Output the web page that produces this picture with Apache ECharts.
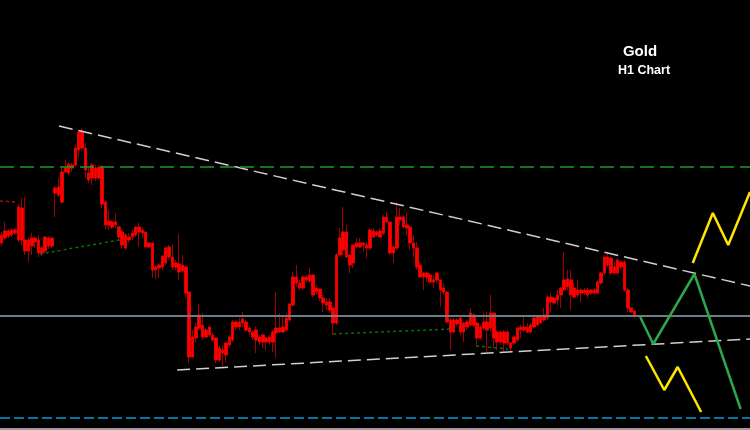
<!DOCTYPE html>
<html>
<head>
<meta charset="utf-8">
<script src="https://cdn.jsdelivr.net/npm/echarts@6/dist/echarts.min.js"></script>
<style>html,body{margin:0;padding:0;background:#000;}#c{width:750px;height:430px;}</style>
</head>
<body>
<div id="c"></div>
<script>
// Hourly candles: [open, close, low, high]
const candles = [
[2195,2187,2184,2198],[2199,2192,2190,2208],[2199,2194,2192,2201],[2200,2195,2193,2202],[2200,2197,2195,2202],
[2223,2190,2188,2226],[2222,2190,2185,2232],[2190,2179,2175,2233],[2190,2179,2168,2192],[2192,2184,2175,2197],
[2192,2188,2182,2194],[2190,2177,2173,2195],[2182,2177,2174,2184],[2193,2179,2177,2194],[2192,2184,2181,2194],
[2192,2184,2182,2193],[2242,2237,2213,2244],[2243,2235,2233,2252],[2258,2228,2226,2262],[2262,2258,2257,2270],
[2266,2257,2255,2268],[2265,2262,2258,2267],[2282,2265,2263,2285],[2298,2280,2272,2300],[2299,2282,2280,2302],
[2282,2260,2252,2287],[2257,2250,2247,2262],[2265,2252,2245,2267],[2262,2252,2249,2265],[2263,2252,2250,2265],
[2263,2226,2222,2265],[2228,2205,2201,2230],[2209,2205,2200,2220],[2208,2203,2201,2210],[2208,2205,2202,2217],
[2203,2193,2190,2205],[2198,2185,2181,2200],[2195,2182,2180,2197],[2193,2190,2187,2197],[2197,2193,2190,2200],
[2203,2195,2193,2203],[2203,2198,2183,2207],[2200,2197,2192,2203],[2198,2183,2182,2198],[2187,2183,2182,2188],
[2187,2160,2152,2188],[2163,2160,2151,2165],[2165,2162,2152,2167],[2174,2163,2160,2175],[2182,2167,2165,2184],
[2183,2173,2170,2185],[2173,2163,2160,2185],[2167,2163,2160,2170],[2166,2158,2150,2196],[2165,2159,2157,2175],
[2163,2137,2132,2165],[2138,2073,2067,2138],[2093,2073,2072,2100],[2103,2092,2087,2107],[2115,2102,2100,2126],
[2105,2093,2090,2117],[2100,2093,2093,2102],[2103,2095,2093,2104],[2095,2090,2088,2097],[2092,2070,2067,2093],
[2082,2070,2068,2085],[2080,2077,2061,2085],[2087,2075,2068,2088],[2093,2085,2082,2095],[2108,2090,2088,2110],
[2108,2103,2100,2110],[2108,2103,2100,2112],[2111,2107,2103,2118],[2108,2100,2098,2110],[2102,2098,2095,2104],
[2098,2093,2090,2100],[2100,2090,2077,2103],[2093,2088,2085,2095],[2095,2088,2082,2097],[2092,2088,2080,2093],
[2093,2088,2085,2095],[2098,2088,2078,2100],[2102,2097,2072,2138],[2102,2098,2097,2117],[2103,2098,2097,2113],
[2112,2100,2098,2117],[2126,2110,2108,2127],[2153,2125,2123,2158],[2153,2147,2143,2165],[2147,2142,2140,2150],
[2153,2142,2140,2155],[2153,2150,2147,2155],[2155,2149,2147,2162],[2155,2135,2133,2155],[2142,2138,2135,2145],
[2141,2132,2129,2142],[2132,2127,2118,2135],[2128,2125,2120,2132],[2128,2120,2117,2132],[2122,2107,2095,2122],
[2175,2107,2105,2177],[2192,2175,2173,2202],[2198,2180,2175,2223],[2198,2173,2172,2205],[2175,2165,2157,2176],
[2185,2167,2162,2185],[2187,2183,2182,2192],[2187,2183,2182,2192],[2187,2185,2178,2188],[2185,2182,2172,2188],
[2200,2182,2180,2202],[2199,2193,2192,2202],[2198,2195,2193,2200],[2199,2193,2192,2202],[2213,2197,2195,2215],
[2213,2208,2207,2218],[2208,2177,2175,2208],[2183,2177,2167,2185],[2213,2182,2180,2228],[2213,2210,2205,2222],
[2213,2203,2202,2215],[2205,2202,2195,2217],[2203,2187,2180,2205],[2187,2182,2173,2195],[2182,2163,2160,2188],
[2165,2153,2152,2168],[2157,2153,2140,2158],[2157,2153,2148,2158],[2155,2148,2147,2157],[2150,2148,2142,2155],
[2157,2150,2147,2158],[2150,2140,2123,2150],[2142,2138,2135,2147],[2138,2108,2107,2138],[2110,2098,2080,2112],
[2110,2098,2097,2112],[2110,2106,2104,2112],[2112,2098,2095,2113],[2107,2098,2088,2108],[2108,2103,2100,2110],
[2117,2105,2103,2122],[2115,2105,2103,2117],[2107,2092,2083,2108],[2103,2092,2090,2105],[2108,2102,2100,2117],
[2108,2100,2078,2118],[2117,2102,2098,2135],[2117,2092,2082,2117],[2098,2088,2080,2100],[2098,2088,2085,2100],
[2098,2087,2078,2100],[2098,2087,2085,2100],[2087,2082,2078,2088],[2093,2087,2085,2095],[2102,2090,2088,2103],
[2103,2100,2092,2105],[2103,2100,2098,2115],[2103,2098,2097,2107],[2105,2098,2096,2107],[2112,2103,2102,2113],
[2113,2105,2104,2115],[2114,2107,2106,2115],[2115,2110,2108,2122],[2133,2112,2110,2135],[2133,2128,2118,2137],
[2132,2127,2125,2133],[2135,2130,2125,2140],[2142,2135,2122,2143],[2150,2140,2140,2178],[2151,2143,2140,2160],
[2150,2135,2120,2160],[2142,2133,2132,2147],[2140,2135,2133,2150],[2140,2137,2128,2142],[2140,2137,2135,2142],
[2140,2135,2132,2142],[2140,2137,2135,2141],[2140,2137,2135,2142],[2148,2137,2136,2150],[2157,2147,2145,2158],
[2173,2157,2155,2175],[2173,2165,2163,2177],[2172,2157,2155,2173],[2163,2157,2155,2168],[2170,2157,2155,2172],
[2168,2163,2160,2170],[2168,2140,2138,2170],[2140,2122,2118,2142],[2122,2118,2117,2123],[2119,2114,2112,2120]
];
const slotCount = 224;               // bar slots across the chart (incl. empty future)
const categories = Array.from({length: slotCount}, (_, i) => 'H' + i);

// Levels
const resistanceLevel = 2263;
const pivotLevel = 2114;
const supportLevel = 2012;

// Trendlines [slot, price]
const upperTrend = [[17.6, 2304], [224, 2144]];
const lowerTrend = [[52.9, 2060], [224, 2091]];
const dotGreen1 = [[11.9, 2176], [35.8, 2190]];
const dotGreen2 = [[99.5, 2096], [134.4, 2101]];
const dotGreen3 = [[142.2, 2084], [151.7, 2081]];
const dotRed = [[0, 2229], [4.8, 2228]];

// Projections
const greenPath = [[191.2, 2113], [195.1, 2086], [207.4, 2156], [221.2, 2021]];
const yellowUp = [[206.9, 2167], [212.9, 2217], [217.5, 2185], [224, 2238]];
const yellowDown = [[192.9, 2074], [198.4, 2040], [202.4, 2063], [209.4, 2018]];

const bodies = candles.map(([o, c]) => [o, c, Math.min(o, c), Math.max(o, c)]);

function line(data, color, width, type) {
  return {
    type: 'line', xAxisIndex: 1, yAxisIndex: 0, data: data,
    showSymbol: false, symbol: 'none', silent: true, animation: false,
    lineStyle: { color: color, width: width, type: type || 'solid' }
  };
}

const chart = echarts.init(document.getElementById('c'), null, { renderer: 'canvas' });
chart.setOption({
  backgroundColor: '#000000',
  animation: false,
  grid: { left: 0, right: 0, top: 0, bottom: 0 },
  xAxis: [
    { type: 'category', data: categories, show: false, boundaryGap: true },
    { type: 'value', min: 0, max: slotCount, show: false }
  ],
  yAxis: [{ type: 'value', min: 2000, max: 2430, show: false }],
  series: [
    line(upperTrend, '#d0d0d0', 1.5, [14, 6]),
    line(lowerTrend, '#d0d0d0', 1.5, [13, 6]),
    {
      type: 'candlestick', data: candles, barWidth: 3, silent: true,
      itemStyle: { color: '#b00000', color0: '#b00000', borderColor: '#a00000', borderColor0: '#a00000', borderWidth: 1 }
    },
    {
      type: 'candlestick', data: bodies, barWidth: 3, silent: true,
      itemStyle: { color: '#ff0000', color0: '#ff0000', borderColor: '#f00000', borderColor0: '#f00000', borderWidth: 0.5 }
    },
    line([[0, resistanceLevel], [slotCount, resistanceLevel]], '#1f9a1f', 1.5, [14, 6]),
    line([[0, pivotLevel], [slotCount, pivotLevel]], '#6e7c8a', 2),
    line([[0, supportLevel], [slotCount, supportLevel]], '#0a9ad6', 1.5, [10, 4]),
    line(dotGreen1, '#0b6e0b', 1.5, [3, 3]),
    line(dotGreen2, '#0b6e0b', 1.5, [3, 3]),
    line(dotGreen3, '#0b6e0b', 1.5, [3, 3]),
    line(dotRed, '#a01010', 1.5, [3, 3]),
    line(greenPath, '#2aa84a', 2.5),
    line(yellowUp, '#ffe600', 2.5),
    line(yellowDown, '#ffe600', 2.5)
  ],
  graphic: [
    { type: 'rect', shape: { x: 0, y: 428, width: 750, height: 2 }, style: { fill: '#9a9a9a' }, silent: true },
    { type: 'text', x: 640, y: 51.5, style: { text: 'Gold', fill: '#ffffff', font: 'bold 15px "Liberation Sans", Arial, sans-serif', textAlign: 'center', textVerticalAlign: 'middle' } },
    { type: 'text', x: 644, y: 71, style: { text: 'H1 Chart', fill: '#ffffff', font: 'bold 12.5px "Liberation Sans", Arial, sans-serif', textAlign: 'center', textVerticalAlign: 'middle' } }
  ]
});
</script>
</body>
</html>
